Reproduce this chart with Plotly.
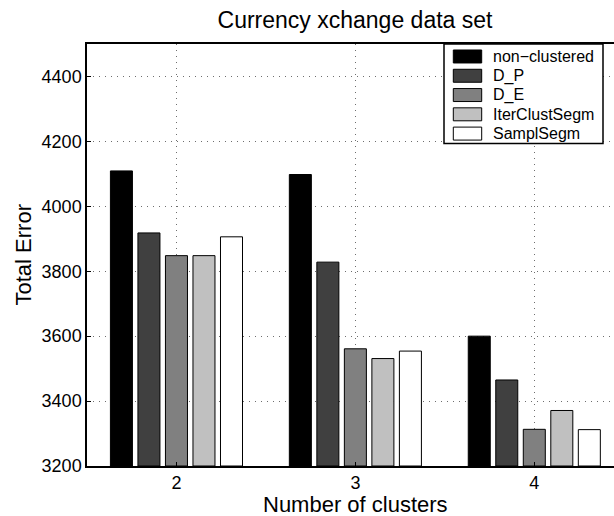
import plotly.graph_objects as go

clusters = [2, 3, 4]
tick_labels = ["2", "3", "4"]
series_names = ["non−clustered", "D_P", "D_E", "IterClustSegm", "SamplSegm"]
non_clustered = [4109, 4098, 3600]
d_p = [3918, 3828, 3465]
d_e = [3848, 3561, 3313]
iter_clust_segm = [3848, 3531, 3371]
sampl_segm = [3906, 3554, 3312]
series_values = [non_clustered, d_p, d_e, iter_clust_segm, sampl_segm]
y_ticks = [3200, 3400, 3600, 3800, 4000, 4200, 4400]
y_min, y_max = 3200, 4500
colors = ["#000000", "#404040", "#808080", "#c0c0c0", "#ffffff"]

W, H = 614, 516
L, T, B = 87, 43.5, 466
FONT = "Liberation Sans, Arial, Helvetica, sans-serif"

fig = go.Figure()
for name, vals, col in zip(series_names, series_values, colors):
    fig.add_trace(go.Bar(
        x=clusters, y=[v - y_min for v in vals], base=y_min, name=name,
        marker=dict(color=col, line=dict(color="#000000", width=1)),
        showlegend=False,
    ))

pw = W - L
ph = B - T
def px2x(px):
    return (px - L) / pw
def px2y(py):
    return (B - py) / ph

shapes = []
annotations = []
# legend box
shapes.append(dict(type="rect", xref="paper", yref="paper",
                   x0=px2x(444), x1=px2x(603), y0=px2y(143), y1=px2y(43.5),
                   line=dict(color="#000000", width=1.5), fillcolor="#ffffff", layer="above"))
row_y = [56, 75.3, 94.6, 113.9, 133.2]
for name, col, ry in zip(series_names, colors, row_y):
    shapes.append(dict(type="rect", xref="paper", yref="paper",
                       x0=px2x(453.3), x1=px2x(481.7), y0=px2y(ry + 6.5), y1=px2y(ry - 6.5),
                       line=dict(color="#000000", width=1), fillcolor=col, layer="above"))
    annotations.append(dict(text=name, xref="paper", yref="paper", x=px2x(491), y=px2y(ry),
                            xanchor="left", yanchor="middle", showarrow=False,
                            font=dict(family=FONT, size=16, color="#000000")))

annotations.append(dict(text="Total Error", xref="paper", yref="paper", x=px2x(22.5), y=0.5,
                        xanchor="center", yanchor="middle", textangle=-90, showarrow=False,
                        font=dict(family=FONT, size=22, color="#000000")))
annotations.append(dict(text="Number of clusters", xref="paper", yref="paper", x=px2x(355), y=px2y(505),
                        xanchor="center", yanchor="middle", showarrow=False,
                        font=dict(family=FONT, size=22, color="#000000")))

grid_dash = "1px,5px"
fig.update_layout(
    width=W, height=H,
    margin=dict(l=L, r=0, t=T, b=H - B, pad=0),
    paper_bgcolor="#ffffff", plot_bgcolor="#ffffff",
    barmode="group", bargap=0.231, bargroupgap=0.2,
    title=dict(text="Currency xchange data set", x=355 / W, xref="container", xanchor="center",
               y=1 - 20 / H, yref="container", yanchor="middle",
               font=dict(family=FONT, size=23, color="#000000")),
    shapes=shapes, annotations=annotations,
    xaxis=dict(range=[1.5, 2 + (W - 176.5) / 178.9], tickvals=clusters, ticktext=tick_labels,
               showline=True, linecolor="#000000", linewidth=1.5, mirror=True,
               ticks="inside", ticklen=4, tickcolor="#000000",
               showgrid=True, gridcolor="#6e6e6e", griddash=grid_dash, gridwidth=1,
               zeroline=False, tickfont=dict(family=FONT, size=18, color="#000000")),
    yaxis=dict(range=[y_min, y_max], tickvals=y_ticks,
               showline=True, linecolor="#000000", linewidth=1.5, mirror=False,
               ticks="inside", ticklen=4, tickcolor="#000000",
               showgrid=True, gridcolor="#6e6e6e", griddash=grid_dash, gridwidth=1,
               zeroline=False, tickfont=dict(family=FONT, size=18, color="#000000")),
    font=dict(family=FONT, color="#000000"),
)

fig.write_html("out.html")
